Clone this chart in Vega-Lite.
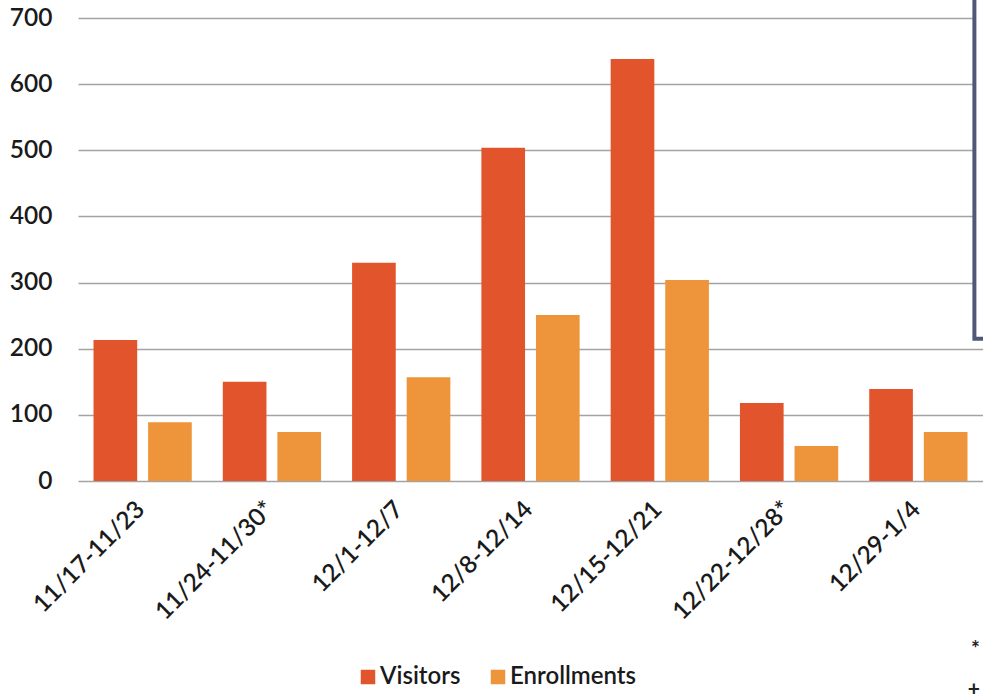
{
  "$schema": "https://vega.github.io/schema/vega-lite/v6.json",
  "width": 905,
  "height": 463,
  "autosize": "none",
  "padding": {"left": 78, "top": 18, "right": 0, "bottom": 215},
  "background": "white",
  "config": {"view": {"stroke": null}, "font": "Lato"},
  "title": {
    "text": ["*", "+"],
    "orient": "bottom",
    "anchor": "end",
    "frame": "group",
    "align": "right",
    "fontSize": 21,
    "fontWeight": "bold",
    "lineHeight": 40,
    "color": "#222222",
    "offset": 0,
    "dy": -50,
    "dx": -3
  },
  "datasets": {
    "weeks": [
      {"week": "11/17-11/23", "series": "Visitors", "count": 213},
      {"week": "11/17-11/23", "series": "Enrollments", "count": 89},
      {"week": "11/24-11/30*", "series": "Visitors", "count": 150},
      {"week": "11/24-11/30*", "series": "Enrollments", "count": 74},
      {"week": "12/1-12/7", "series": "Visitors", "count": 330},
      {"week": "12/1-12/7", "series": "Enrollments", "count": 157},
      {"week": "12/8-12/14", "series": "Visitors", "count": 504},
      {"week": "12/8-12/14", "series": "Enrollments", "count": 251},
      {"week": "12/15-12/21", "series": "Visitors", "count": 638},
      {"week": "12/15-12/21", "series": "Enrollments", "count": 304},
      {"week": "12/22-12/28*", "series": "Visitors", "count": 118},
      {"week": "12/22-12/28*", "series": "Enrollments", "count": 53},
      {"week": "12/29-1/4", "series": "Visitors", "count": 139},
      {"week": "12/29-1/4", "series": "Enrollments", "count": 74}
    ],
    "panel": [
      {"left": 0.9905, "right": 1.03, "bottom": 215, "top": 760}
    ]
  },
  "layer": [
    {
      "data": {"name": "weeks"},
      "mark": {"type": "bar"},
      "encoding": {
        "x": {
          "field": "week",
          "type": "nominal",
          "sort": null,
          "scale": {"paddingInner": 0.24, "paddingOuter": 0.12},
          "axis": {
            "title": null,
            "labelAngle": -45,
            "labelFontSize": 24.5,
            "labelFontWeight": 600,
            "labelColor": "#1a1a1a",
            "labelPadding": 16,
            "labelOffset": -10,
            "domain": false,
            "ticks": false
          }
        },
        "xOffset": {
          "field": "series",
          "type": "nominal",
          "sort": ["Visitors", "Enrollments"],
          "scale": {"paddingInner": 0.2, "paddingOuter": 0}
        },
        "y": {
          "field": "count",
          "type": "quantitative",
          "scale": {"domain": [0, 700], "nice": false},
          "axis": {
            "title": null,
            "values": [0, 100, 200, 300, 400, 500, 600, 700],
            "labelFontSize": 24.5,
            "labelFontWeight": 600,
            "labelColor": "#1a1a1a",
            "labelPadding": 26,
            "domain": false,
            "ticks": false,
            "grid": true,
            "gridColor": "#a3a3a3",
            "gridWidth": 1.6
          }
        },
        "color": {
          "field": "series",
          "type": "nominal",
          "scale": {"domain": ["Visitors", "Enrollments"], "range": ["#E2552C", "#EE953B"]},
          "legend": {
            "orient": "none",
            "legendX": 278,
            "legendY": 647,
            "direction": "horizontal",
            "title": null,
            "symbolType": "square",
            "symbolSize": 210,
            "symbolStrokeWidth": 0,
            "labelFontSize": 24,
            "labelFontWeight": 600,
            "labelColor": "#1a1a1a",
            "labelOffset": 0,
            "columnPadding": 25
          }
        }
      }
    },
    {
      "data": {"name": "panel"},
      "mark": {"type": "rect", "fill": "white", "stroke": "#4f5977", "strokeWidth": 4, "clip": false},
      "encoding": {
        "x": {"field": "left", "type": "quantitative", "scale": {"domain": [0, 1], "nice": false}, "axis": null},
        "x2": {"field": "right"},
        "y": {"field": "bottom", "type": "quantitative", "scale": {"domain": [0, 700], "nice": false}},
        "y2": {"field": "top"}
      }
    }
  ],
  "resolve": {"scale": {"x": "independent"}}
}
